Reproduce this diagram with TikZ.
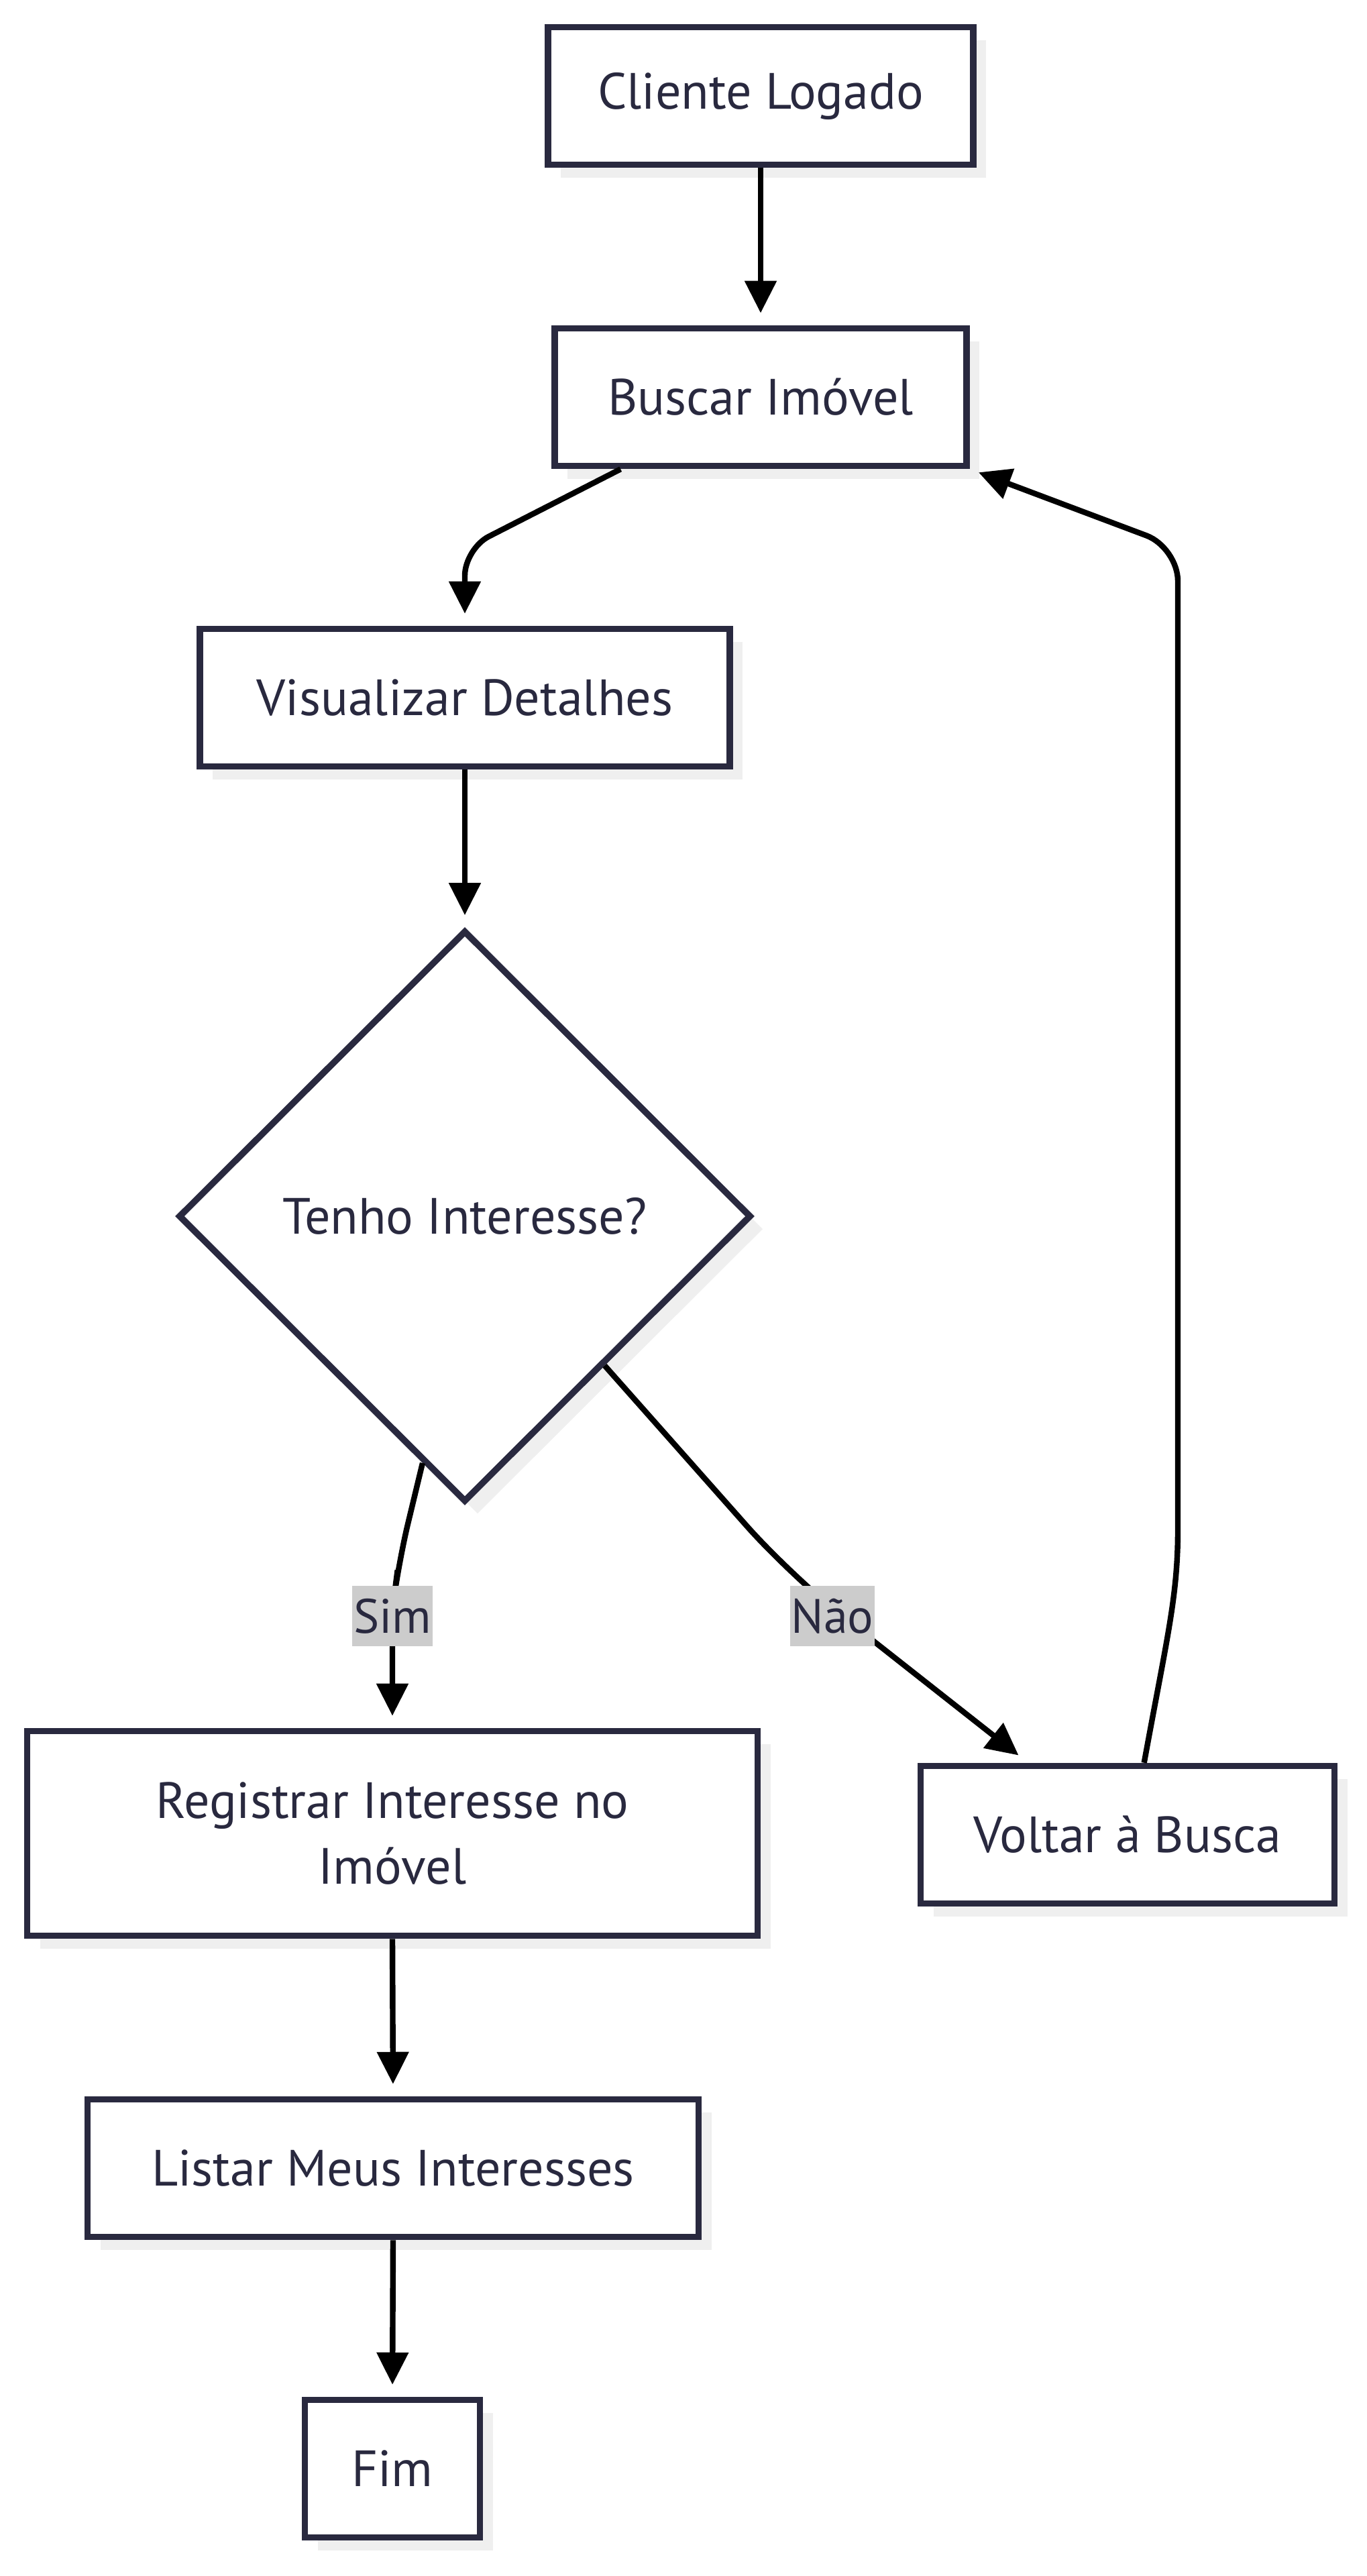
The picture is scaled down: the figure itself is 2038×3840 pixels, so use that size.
\documentclass[tikz,border=0pt]{standalone}
\usepackage{fontspec}
\setmainfont{PT Sans}
\usetikzlibrary{shapes.geometric,arrows.meta,calc,shadows}
\definecolor{ink}{HTML}{29293F}
\definecolor{shade}{HTML}{EFEFEF}
\definecolor{lbl}{HTML}{CCCCCC}
\begin{document}
\begin{tikzpicture}[x=0.5pt,y=-0.5pt,
  shd/.style={general shadow={fill=shade, shadow xshift=9.5pt, shadow yshift=-9.5pt}},
  box/.style={shd, draw=ink, line width=4.8pt, fill=white, text=ink,
    font=\fontsize{38}{49}\selectfont, minimum height=102.5pt, inner sep=0pt, align=center},
  dec/.style={shd, diamond, aspect=1, draw=ink, line width=4.8pt, fill=white, text=ink,
    font=\fontsize{38}{49}\selectfont, minimum width=427pt, minimum height=426pt, inner sep=0pt},
  lab/.style={fill=lbl, text=ink, font=\fontsize{36}{40}\selectfont, inner xsep=1pt, inner ysep=0pt, minimum height=45pt},
  arr/.style={draw=black, line width=4.2pt, -{Triangle[length=24pt,width=23pt]}, shorten >=9pt}
]
\fill[white] (0,0) rectangle (2038,3840);
\useasboundingbox (0,0) rectangle (2038,3840);

\node[box, minimum width=317pt] (cliente) at (1134,143) {Cliente Logado};
\node[box, minimum width=307pt] (buscar) at (1134,592) {Buscar Imóvel};
\node[box, minimum width=395pt] (visual) at (693,1040) {Visualizar Detalhes};
\node[dec] (dia) at (693,1813) {Tenho Interesse?};
\node[box, minimum width=544.5pt, minimum height=152.5pt] (reg) at (585,2733) {Registrar Interesse no\\Imóvel};
\node[box, minimum width=308.5pt] (voltar) at (1681,2735) {Voltar à Busca};
\node[box, minimum width=455.5pt] (listar) at (586,3232) {Listar Meus Interesses};
\node[box, minimum width=130.5pt] (fim) at (585,3680) {Fim};

\draw[arr] (cliente.south) -- (buscar.north);
\draw[arr, rounded corners=20pt] ($(buscar.south west)+(103,0)$) -- (693,818) -- (visual.north);
\draw[arr] (visual.south) -- (dia.north);
\draw[arr, rounded corners=30pt] ($(dia.west)!0.854!(dia.south)$) -- (594,2330) -- (585,2400) -- (reg.north);
\draw[arr, rounded corners=50pt] ($(dia.east)!0.517!(dia.south)$) -- (1180,2350) -- ($(voltar.north west)+(165,0)$);
\draw[arr, shorten >=7pt] ($(voltar.north west)+(338,0)$) .. controls (1740,2440) and (1756,2380) .. (1756,2280) [rounded corners=25pt] -- (1756,816) -- (buscar.south east);
\draw[arr] (reg.south) -- (listar.north);
\draw[arr] (listar.south) -- (fim.north);

\node[lab] (sim) at (585,2409) {Sim};
\node[lab] (nao) at (1241,2409) {Não};
\end{tikzpicture}
\end{document}
